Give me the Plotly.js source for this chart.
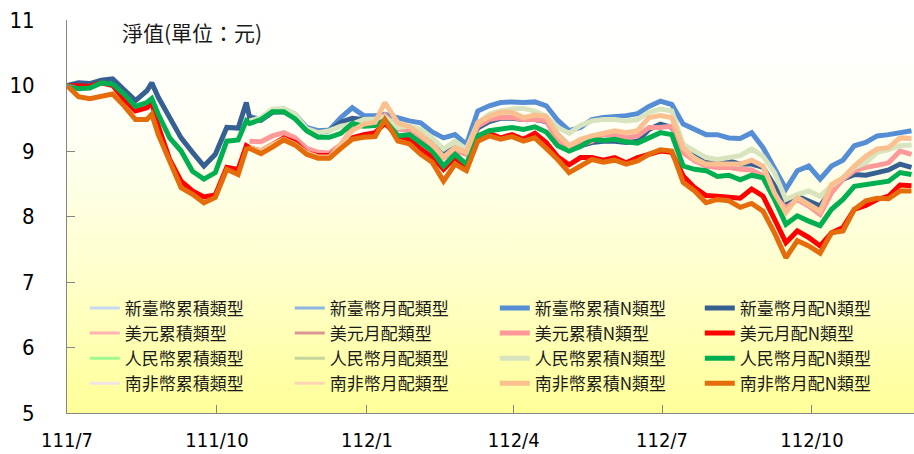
<!DOCTYPE html>
<html>
<head>
<meta charset="utf-8">
<script src="https://cdn.plot.ly/plotly-3.0.1.min.js"></script>
<style>
  html, body { margin:0; padding:0; background:#ffffff; }
  #wrap { position:relative; width:914px; height:454px; overflow:hidden; }
  #bg { position:absolute; left:67px; top:20px; width:847px; height:393px;
        background: linear-gradient(to bottom, #ffffff 0%, #fffff4 30%, #ffffcc 65%, #ffff99 100%); }
  #chart { position:absolute; left:0; top:0; width:914px; height:454px; }
</style>
</head>
<body>
<div id="wrap"><div id="bg"></div><div id="chart"></div></div>
<script>
// Dates (ROC 111/7 = 2022-07)
const dates = [
 '2022-07-01','2022-07-08','2022-07-15','2022-07-22','2022-07-29','2022-08-05','2022-08-12','2022-08-19','2022-08-22','2022-08-26',
 '2022-09-02','2022-09-09','2022-09-16','2022-09-23','2022-09-30','2022-10-07','2022-10-14','2022-10-19','2022-10-21','2022-10-28',
 '2022-11-04','2022-11-11','2022-11-18','2022-11-25','2022-12-02','2022-12-09','2022-12-16','2022-12-23','2022-12-30','2023-01-06',
 '2023-01-12','2023-01-20','2023-01-27','2023-02-03','2023-02-10','2023-02-17','2023-02-24','2023-03-03','2023-03-10','2023-03-17',
 '2023-03-24','2023-03-31','2023-04-07','2023-04-14','2023-04-21','2023-04-28','2023-05-05','2023-05-12','2023-05-19','2023-05-26',
 '2023-06-02','2023-06-09','2023-06-16','2023-06-23','2023-06-30','2023-07-07','2023-07-14','2023-07-21','2023-07-28','2023-08-04',
 '2023-08-11','2023-08-18','2023-08-25','2023-09-01','2023-09-08','2023-09-15','2023-09-22','2023-09-29','2023-10-06','2023-10-13',
 '2023-10-20','2023-10-27','2023-11-03','2023-11-10','2023-11-17','2023-11-24','2023-12-01'
];

const N = null;
// 新臺幣累積N類型
const twdAccN = [N,N,N,N,N,N,N,N,N,N, N,N,N,N,N,N,N,N,9.53,9.48,
 9.60,9.64,9.56,9.36,9.31,9.32,9.51,9.66,9.54,9.54,
 9.56,9.50,9.46,9.43,9.29,9.20,9.25,9.10,9.61,9.69,
 9.74,9.75,9.74,9.75,9.69,9.47,9.31,9.36,9.48,9.51,
 9.52,9.54,9.57,9.68,9.76,9.71,9.41,9.34,9.25,9.25,
 9.20,9.19,9.28,9.05,8.72,8.42,8.70,8.77,8.57,8.77,
 8.86,9.08,9.13,9.23,9.25,9.28,9.31];
// 新臺幣月配N類型
const twdMonN = [10.00,10.04,10.03,10.08,10.10,9.94,9.77,9.92,10.04,9.82,
 9.51,9.20,8.98,8.77,8.95,9.36,9.35,9.74,9.51,9.47,
 9.59,9.60,9.51,9.33,9.28,9.31,9.44,9.50,9.48,9.45,
 9.47,9.40,9.35,9.25,9.12,8.95,9.05,8.98,9.35,9.45,
 9.50,9.50,9.48,9.48,9.45,9.25,9.08,9.08,9.13,9.15,
 9.15,9.13,9.15,9.33,9.41,9.36,9.03,8.98,8.87,8.80,
 8.85,8.80,8.80,8.75,8.47,8.19,8.31,8.24,8.16,8.41,
 8.57,8.64,8.63,8.67,8.71,8.80,8.75];
// 美元累積N類型
const usdAccN = [N,N,N,N,N,N,N,N,N,N, N,N,N,N,N,N,N,N,9.15,9.14,
 9.23,9.28,9.20,9.04,8.98,8.97,9.10,9.34,9.40,9.41,
 9.55,9.33,9.32,9.20,9.08,8.90,9.00,8.95,9.38,9.48,
 9.51,9.51,9.48,9.48,9.46,9.15,9.04,9.10,9.15,9.25,
 9.25,9.20,9.23,9.36,9.36,9.38,8.97,8.85,8.77,8.75,
 8.75,8.72,8.71,8.62,8.31,8.13,8.26,8.16,8.03,8.36,
 8.57,8.70,8.75,8.78,8.82,9.00,8.95];
// 美元月配N類型
const usdMonN = [10.00,10.00,9.99,10.04,10.00,9.79,9.61,9.66,9.74,9.38,
 8.87,8.54,8.39,8.30,8.33,8.75,8.72,9.08,9.05,9.00,
 9.09,9.20,9.13,8.97,8.93,8.93,9.08,9.20,9.25,9.28,
 9.42,9.23,9.18,9.03,8.91,8.72,8.90,8.75,9.20,9.27,
 9.20,9.25,9.18,9.27,9.13,8.91,8.79,8.90,8.90,8.86,
 8.90,8.82,8.90,8.95,9.00,8.98,8.62,8.44,8.32,8.31,
 8.29,8.28,8.42,8.31,7.96,7.60,7.78,7.68,7.55,7.75,
 7.83,8.11,8.17,8.26,8.31,8.48,8.47];
// 人民幣累積N類型
const cnyAccN = [N,N,N,N,N,N,N,N,N,N, N,N,N,N,N,N,N,N,9.46,9.51,
 9.64,9.65,9.56,9.34,9.28,9.31,9.38,9.41,9.48,9.49,
 9.52,9.36,9.38,9.33,9.20,9.03,9.15,9.03,9.43,9.56,
 9.61,9.64,9.65,9.61,9.53,9.36,9.27,9.39,9.46,9.48,
 9.48,9.46,9.48,9.59,9.64,9.61,9.10,9.00,8.90,8.87,
 8.90,8.93,9.03,8.92,8.67,8.26,8.34,8.39,8.31,8.47,
 8.59,8.75,8.82,8.98,9.02,9.08,9.09];
// 人民幣月配N類型
const cnyMonN = [10.00,9.95,9.96,10.04,10.02,9.87,9.68,9.74,9.80,9.56,
 9.20,9.00,8.69,8.57,8.67,9.15,9.17,9.46,9.42,9.48,
 9.60,9.60,9.49,9.31,9.21,9.21,9.27,9.42,9.38,9.39,
 9.47,9.23,9.25,9.13,9.00,8.77,8.95,8.80,9.23,9.31,
 9.33,9.36,9.33,9.37,9.29,9.08,9.00,9.07,9.18,9.16,
 9.18,9.14,9.12,9.20,9.28,9.25,8.77,8.72,8.70,8.61,
 8.63,8.56,8.63,8.59,8.26,7.88,8.01,7.93,7.86,8.11,
 8.26,8.46,8.49,8.52,8.54,8.67,8.64];
// 南非幣累積N類型
const zarAccN = [N,N,N,N,N,N,N,N,N,N, N,N,N,N,N,N,N,N,9.05,9.00,
 9.10,9.18,9.10,8.97,8.91,8.91,9.10,9.31,9.41,9.44,
 9.74,9.43,9.37,9.25,9.10,8.91,9.05,8.98,9.43,9.53,
 9.59,9.59,9.51,9.55,9.53,9.25,9.08,9.18,9.23,9.28,
 9.31,9.28,9.31,9.51,9.54,9.51,9.05,8.88,8.80,8.80,
 8.80,8.80,8.86,8.77,8.36,8.06,8.29,8.19,8.08,8.49,
 8.59,8.77,8.92,9.03,9.05,9.20,9.19];
// 南非幣月配N類型
const zarMonN = [10.00,9.83,9.80,9.84,9.87,9.69,9.48,9.48,9.56,9.25,
 8.85,8.44,8.34,8.21,8.29,8.72,8.64,9.03,9.04,8.96,
 9.06,9.17,9.09,8.95,8.89,8.89,9.04,9.18,9.21,9.22,
 9.48,9.15,9.11,8.95,8.83,8.54,8.80,8.70,9.15,9.23,
 9.18,9.22,9.15,9.20,9.04,8.87,8.67,8.77,8.87,8.83,
 8.86,8.80,8.85,8.95,9.02,9.00,8.52,8.39,8.21,8.26,
 8.24,8.14,8.20,8.08,7.75,7.37,7.63,7.55,7.44,7.75,
 7.78,8.11,8.24,8.28,8.27,8.39,8.39];

// Non-N share classes overlap the N classes (hidden beneath them)
const series = [
  {name:'新臺幣累積類型',   y:twdAccN, color:'#c6d9f1', w:3},
  {name:'新臺幣月配類型',   y:twdMonN, color:'#8eb4e3', w:3},
  {name:'新臺幣累積N類型',  y:twdAccN, color:'#558ed5', w:5},
  {name:'新臺幣月配N類型',  y:twdMonN, color:'#376092', w:5},
  {name:'美元累積類型',     y:usdAccN, color:'#ffb3b3', w:3},
  {name:'美元月配類型',     y:usdMonN, color:'#d99694', w:3},
  {name:'美元累積N類型',    y:usdAccN, color:'#ff9999', w:5},
  {name:'美元月配N類型',    y:usdMonN, color:'#ff0000', w:5},
  {name:'人民幣累積類型',   y:cnyAccN, color:'#a0f890', w:3},
  {name:'人民幣月配類型',   y:cnyMonN, color:'#c3d69b', w:3},
  {name:'人民幣累積N類型',  y:cnyAccN, color:'#d7e4bd', w:5},
  {name:'人民幣月配N類型',  y:cnyMonN, color:'#00b050', w:5},
  {name:'南非幣累積類型',   y:zarAccN, color:'#f2e4e6', w:3},
  {name:'南非幣月配類型',   y:zarMonN, color:'#fcd5b5', w:3},
  {name:'南非幣累積N類型',  y:zarAccN, color:'#fac090', w:5},
  {name:'南非幣月配N類型',  y:zarMonN, color:'#e46c0a', w:5}
];

const xTickVals = ['2022-07-01','2022-10-01','2023-01-01','2023-04-01','2023-07-01','2023-10-01'];
const xTickText = ['111/7','111/10','112/1','112/4','112/7','112/10'];
const yTickVals = [5,6,7,8,9,10,11];

const traces = series.map(s => ({
  type:'scatter', mode:'lines', x:dates, y:s.y, name:s.name,
  line:{color:s.color, width:s.w}, connectgaps:false, hoverinfo:'skip'
}));

const fam = 'Liberation Sans Narrow, DejaVu Sans Condensed, Liberation Sans, sans-serif';

const layout = {
  width:914, height:454,
  margin:{l:67, r:0, t:20, b:41, pad:0},
  paper_bgcolor:'rgba(0,0,0,0)', plot_bgcolor:'rgba(0,0,0,0)',
  showlegend:true,
  legend:{orientation:'h', x:0.021, y:0.312, xanchor:'left', yanchor:'top',
          entrywidth:160, entrywidthmode:'pixels', traceorder:'normal',
          bgcolor:'rgba(0,0,0,0)',
          font:{family:'Noto Sans CJK TC, sans-serif', size:17, color:'#1a1a1a'}},
  xaxis:{type:'date', range:['2022-07-01','2023-12-02 14:00'],
         tickvals:xTickVals, ticktext:xTickText, ticks:'inside', ticklen:8,
         tickcolor:'#868686', showline:true, linecolor:'#868686', linewidth:1,
         showgrid:false, zeroline:false, tickfont:{family:fam, size:20, color:'#000000'},
         ticklabelstandoff:9},
  yaxis:{range:[5,11], tickvals:yTickVals, ticks:'inside', ticklen:8,
         tickcolor:'#868686', showline:true, linecolor:'#868686', linewidth:1,
         showgrid:false, zeroline:false, tickfont:{family:fam, size:22, color:'#000000'},
         ticklabelstandoff:27},
  annotations:[{text:'淨值(單位：元)', xref:'paper', yref:'paper', x:0.1476, y:0.97,
                xanchor:'center', yanchor:'middle', showarrow:false,
                font:{family:'Noto Sans CJK TC, sans-serif', size:21, color:'#1a1a1a'}}]
};

Plotly.newPlot('chart', traces, layout, {staticPlot:true, displayModeBar:false});
</script>
</body>
</html>
